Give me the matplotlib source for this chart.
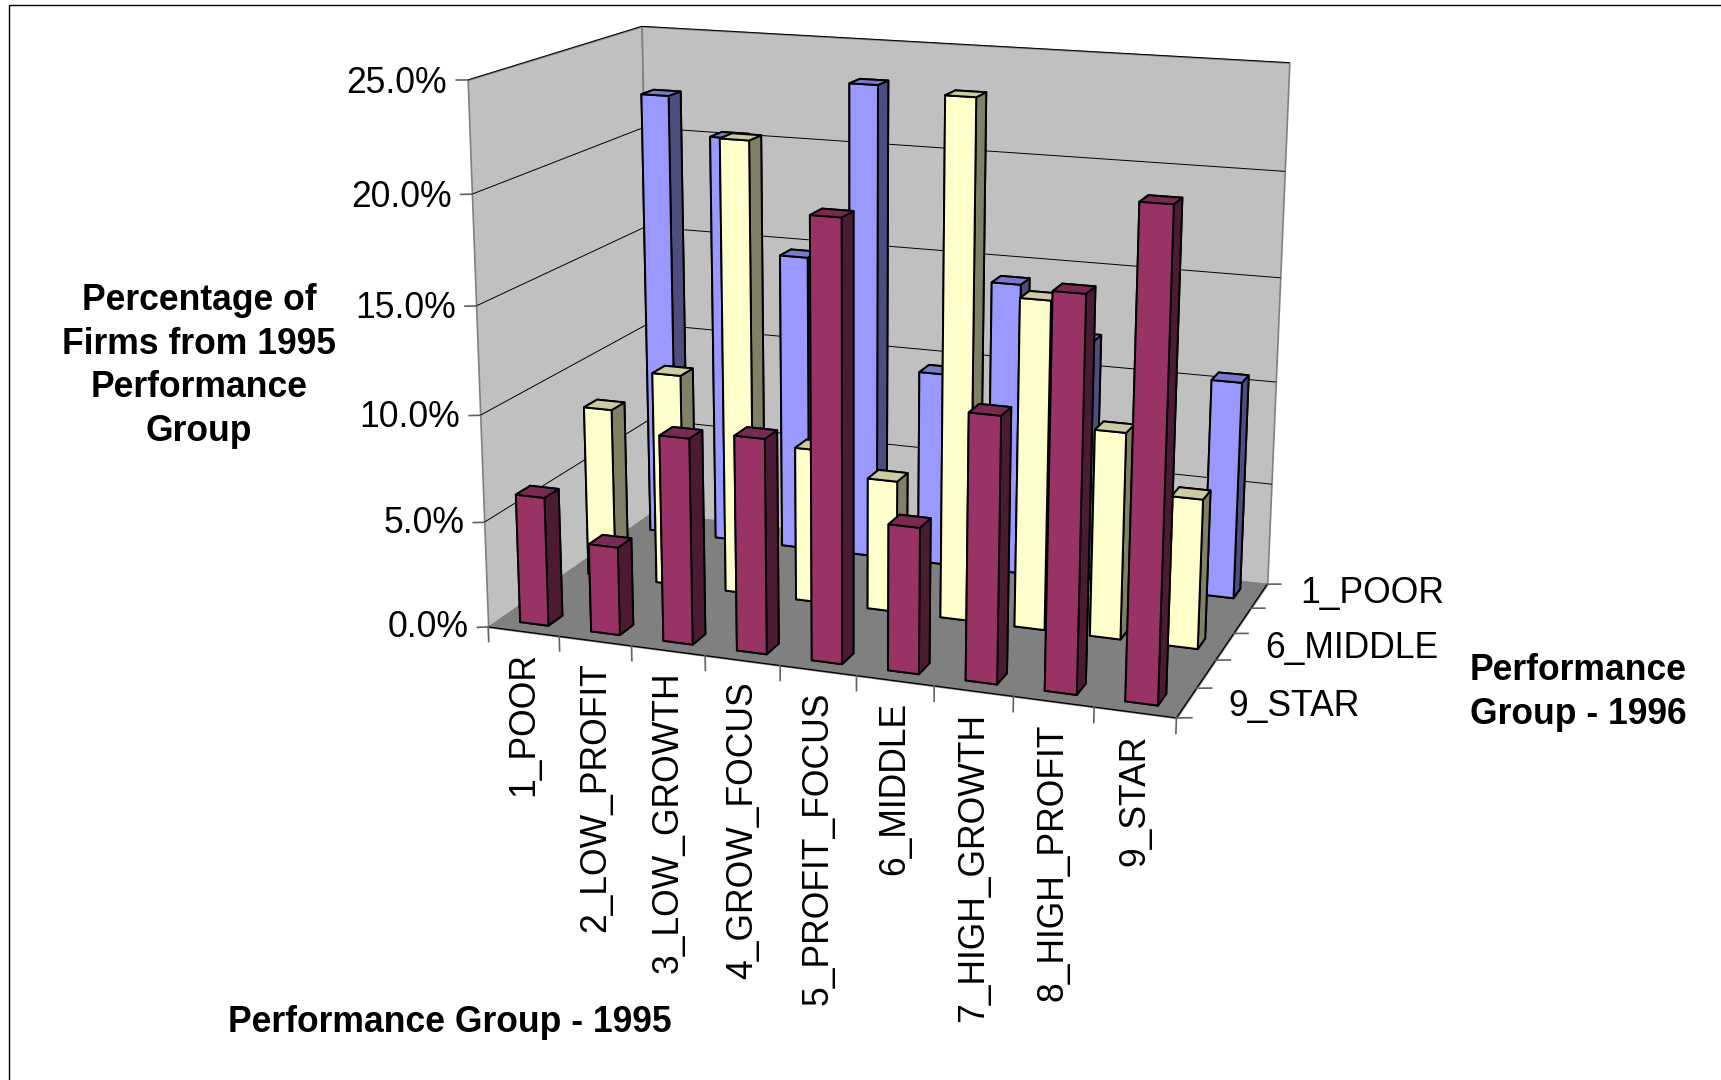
#!/usr/bin/env python3
# -*- coding: utf-8 -*-

import numpy as np
import matplotlib
matplotlib.use('Agg')
import matplotlib.pyplot as plt
from matplotlib.lines import Line2D
from mpl_toolkits.mplot3d.art3d import Poly3DCollection

plt.rcParams['font.family'] = ['Liberation Sans', 'DejaVu Sans']

groups_1995 = ['1_POOR', '2_LOW_PROFIT', '3_LOW_GROWTH', '4_GROW_FOCUS', '5_PROFIT_FOCUS',
               '6_MIDDLE', '7_HIGH_GROWTH', '8_HIGH_PROFIT', '9_STAR']
poor_1996 = [22.1, 20.25, 14.7, 23.25, 9.55, 14.25, 11.8, 8.0, 10.5]
middle_1996 = [8.3, 10.3, 21.6, 7.4, 6.3, 24.2, 15.4, 9.7, 7.0]
star_1996 = [6.1, 4.15, 9.6, 9.95, 20.0, 6.7, 12.05, 17.6, 21.6]
pct_ticks = [0, 5, 10, 15, 20, 25]

W, H = 1721, 1080
NX, NY, ZMAX = 9, 5, 25
FS = 25.6

fig = plt.figure(figsize=(W / 100, H / 100), dpi=100, facecolor='white')
# square axes so mplot3d leaves the position alone
ax = fig.add_axes([0, (H - W) / 2 / H, 1, W / H], projection='3d', computed_zorder=False)
ax.set_axis_off()
ax.patch.set_visible(False)
ax.apply_aspect()

# camera: where the corners of the plot box land on the canvas
corners = [(0, 0, 0, 492, 624), (NX, 0, 0, 1177, 720), (0, NY, 0, 647, 516), (NX, NY, 0, 1268, 582),
           (0, 0, ZMAX, 463, 81), (0, NY, ZMAX, 647, 25), (NX, NY, ZMAX, 1288, 63)]
rows = []
for x, y, z, px, py in corners:
    u, v = ax.transData.inverted().transform((px, H - py))
    p = [x, y, z, 1]
    rows.append(p + [0, 0, 0, 0] + [-u * c for c in p])
    rows.append([0, 0, 0, 0] + p + [-v * c for c in p])
cam = np.linalg.svd(np.array(rows))[2][-1].reshape(3, 4)
if cam[2] @ np.array([0, 0, 0, 1]) < 0:
    cam = -cam
M = np.vstack([cam[0], cam[1], [0, 0, 0, -1], cam[2]])
ax.get_proj = lambda: M
ax.M = M


def project(x, y, z):
    a = cam @ np.array([x, y, z, 1.0])
    return a[0] / a[2], a[1] / a[2]


def label(x, y, z, s, **kw):
    px, py = project(x, y, z)
    ax.text2D(px, py, s, transform=ax.transData, fontsize=FS, color='black', zorder=50, **kw)


# walls and floor
panes = [
    ([(0, 0, 0), (0, NY, 0), (0, NY, ZMAX), (0, 0, ZMAX)], '#C0C0C0'),
    ([(0, NY, 0), (NX, NY, 0), (NX, NY, ZMAX), (0, NY, ZMAX)], '#C0C0C0'),
    ([(0, 0, 0), (NX, 0, 0), (NX, NY, 0), (0, NY, 0)], '#808080'),
]
for verts, col in panes:
    ax.add_collection3d(Poly3DCollection([verts], facecolors=col, edgecolors='#808080',
                                         linewidths=1.2, zorder=1))
ax.plot([0, NX, NX], [0, 0, NY], [0, 0, 0], color='black', lw=0.9, zorder=2)

# gridlines and ticks on the value axis
for t in pct_ticks:
    if t > 0:
        ax.plot([0, 0, NX], [0, NY, NY], [t, t, t], color='black', lw=0.7, zorder=2)
    ax.plot([0, -0.122], [0, -0.058], [t, t], color='#606060', lw=1.2, zorder=2)
    label(-0.22, -0.105, t - 0.006 * t, '%.1f%%' % t, ha='right', va='center')

# ticks along the floor edges
for i in range(NX + 1):
    ax.plot([i, i], [0, 0], [0, -0.7], color='#606060', lw=1.2, zorder=2)
for j in range(NY + 1):
    ax.plot([NX, NX + 0.17], [j, j + 0.066], [0, 0], color='#606060', lw=1.2, zorder=2)

for i, name in enumerate(groups_1995):
    label(i + 0.5, 0, -1.0, name, rotation=90, ha='center', va='top')
for j, name in zip([4.58, 2.42, 0.36], ['1_POOR', '6_MIDDLE', '9_STAR']):
    label(NX + 0.49, j + 0.19, 0, name, ha='left', va='center')

# bars, back row first
series = [
    (poor_1996, 4, '#9999FF', '#7A7ACC', '#4D4D80'),
    (middle_1996, 2, '#FFFFCC', '#CCCCA3', '#808066'),
    (star_1996, 0, '#993366', '#7A2952', '#4D1A33'),
]
for k, (vals, row, front, top, side) in enumerate(series):
    for i, v in enumerate(vals):
        # faces: bottom, top, front, back, left, right
        ax.bar3d([i + 0.3], [row + 0.3], [0], [0.4], [0.4], [v],
                 color=[side, top, front, side, side, side], shade=False,
                 edgecolor='black', linewidth=1.4, zorder=10 + 10 * k + i)

# axis titles
fig.text(199 / W, 1 - 366 / H, 'Percentage of\nFirms from 1995\nPerformance\nGroup', fontsize=FS,
         fontweight='bold', ha='center', va='center', linespacing=1.32)
fig.text(450 / W, 1 - 1022 / H, 'Performance Group - 1995', fontsize=FS, fontweight='bold',
         ha='center', va='center')
fig.text(1578 / W, 1 - 692.5 / H, 'Performance\nGroup - 1996', fontsize=FS, fontweight='bold',
         ha='center', va='center', linespacing=1.32)

# chart frame
fig.add_artist(Line2D([9 / W, 9 / W, 1], [0, 1 - 5 / H, 1 - 5 / H], color='black', lw=1.0))

fig.savefig('out.png', dpi=100)
